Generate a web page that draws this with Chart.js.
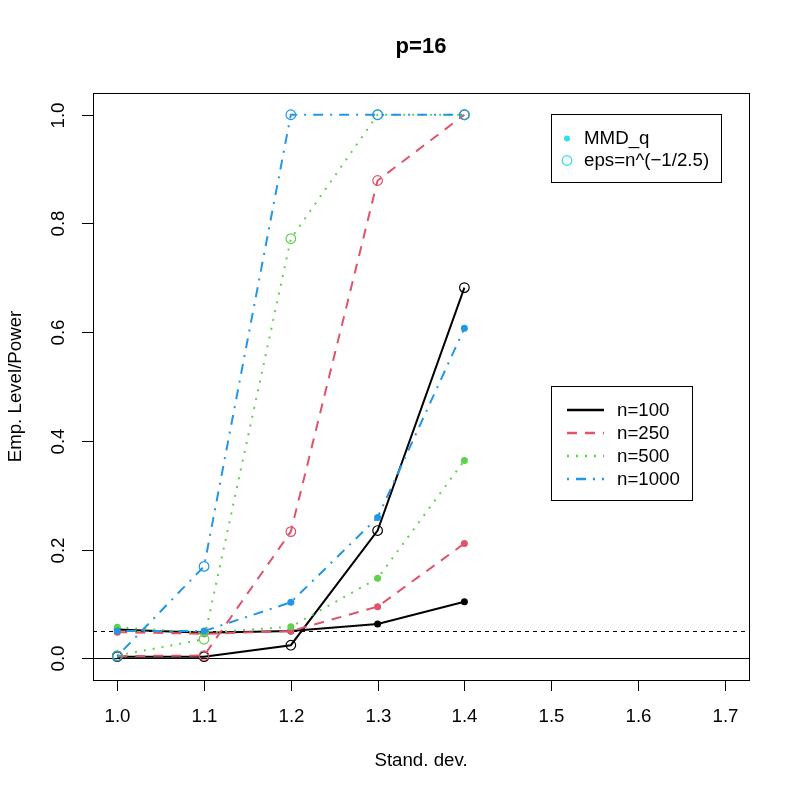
<!DOCTYPE html>
<html>
<head>
<meta charset="utf-8">
<script src="https://cdn.jsdelivr.net/npm/chart.js@4/dist/chart.umd.min.js"></script>
<style>
  html, body { margin: 0; padding: 0; background: #fff; }
</style>
</head>
<body>
<canvas id="grafico" width="797" height="797"></canvas>
<script>
// desvios (eixo x) e rótulos
const desvios = [1.0, 1.1, 1.2, 1.3, 1.4];
const xTicks = [1.0, 1.1, 1.2, 1.3, 1.4, 1.5, 1.6, 1.7];
const yTicks = [0.0, 0.2, 0.4, 0.6, 0.8, 1.0];
const tamanhos = ["n=100", "n=250", "n=500", "n=1000"];
const cores = ["#000000", "#DF536B", "#61D04F", "#2297E6"];

// MMD_q (pontos cheios)
const mmd100  = [0.053, 0.047, 0.050, 0.063, 0.104];
const mmd250  = [0.048, 0.045, 0.050, 0.095, 0.211];
const mmd500  = [0.057, 0.047, 0.058, 0.147, 0.364];
const mmd1000 = [0.050, 0.050, 0.103, 0.259, 0.607];

// eps=n^(-1/2.5) (círculos abertos)
const eps100  = [0.003, 0.003, 0.024, 0.235, 0.682];
const eps250  = [0.004, 0.005, 0.233, 0.879, 1.000];
const eps500  = [0.005, 0.035, 0.772, 1.000, 1.000];
const eps1000 = [0.004, 0.169, 1.000, 1.000, 1.000];

const nivel = 0.05;

const tracos = [[], [10, 8], [2, 7], [2, 7, 10, 7]];
const fonte = "'Liberation Sans', Arial, sans-serif";

function pontos(vals) {
  return vals.map((v, i) => ({ x: desvios[i], y: v }));
}

const mmd = [mmd100, mmd250, mmd500, mmd1000];
const eps = [eps100, eps250, eps500, eps1000];

let datasets = [];
for (let k = 0; k < 4; k++) {
  datasets.push({
    label: "MMD_q " + tamanhos[k],
    data: pontos(mmd[k]),
    borderColor: cores[k],
    backgroundColor: cores[k],
    borderWidth: 2,
    borderDash: tracos[k],
    pointRadius: 3.5,
    pointBorderWidth: 0,
    pointBackgroundColor: cores[k],
    tension: 0
  });
  datasets.push({
    label: "eps " + tamanhos[k],
    data: pontos(eps[k]),
    borderColor: cores[k],
    backgroundColor: cores[k],
    borderWidth: 2,
    borderDash: tracos[k],
    pointRadius: 4.8,
    pointBorderWidth: 1.2,
    pointBackgroundColor: "rgba(255,255,255,0)",
    tension: 0
  });
}
// o primeiro dataset fica por cima no Chart.js
datasets.reverse();

const eixos = {
  id: "eixos",
  beforeDatasetsDraw(chart) {
    const { ctx, chartArea: a, scales: { x, y } } = chart;
    ctx.save();
    ctx.strokeStyle = "#000";
    ctx.lineWidth = 1;
    let y0 = Math.round(y.getPixelForValue(0)) + 0.5;
    ctx.beginPath(); ctx.moveTo(a.left, y0); ctx.lineTo(a.right, y0); ctx.stroke();
    let y5 = Math.round(y.getPixelForValue(nivel)) + 0.5;
    ctx.setLineDash([4, 4]);
    ctx.beginPath(); ctx.moveTo(a.left, y5); ctx.lineTo(a.right, y5); ctx.stroke();
    ctx.restore();
  },
  afterDraw(chart) {
    const { ctx, chartArea: a, scales: { x, y } } = chart;
    ctx.save();
    ctx.strokeStyle = "#000";
    ctx.fillStyle = "#000";
    ctx.lineWidth = 1;
    ctx.strokeRect(a.left + 0.5, a.top + 0.5, a.right - a.left, a.bottom - a.top);

    // eixo x
    ctx.font = "18.7px " + fonte;
    ctx.textAlign = "center";
    ctx.textBaseline = "middle";
    xTicks.forEach(t => {
      const px = Math.round(x.getPixelForValue(t)) + 0.5;
      ctx.beginPath(); ctx.moveTo(px, a.bottom); ctx.lineTo(px, a.bottom + 11); ctx.stroke();
      ctx.fillText(t.toFixed(1), px, 717);
    });
    // eixo y
    yTicks.forEach(t => {
      const py = Math.round(y.getPixelForValue(t)) + 0.5;
      ctx.beginPath(); ctx.moveTo(a.left - 11, py); ctx.lineTo(a.left, py); ctx.stroke();
      ctx.save();
      ctx.translate(59, py);
      ctx.rotate(-Math.PI / 2);
      ctx.fillText(t.toFixed(1), 0, 0);
      ctx.restore();
    });

    // títulos
    const cx = (a.left + a.right) / 2;
    const cy = (a.top + a.bottom) / 2;
    ctx.fillText("Stand. dev.", cx, 761);
    ctx.save();
    ctx.translate(16, cy);
    ctx.rotate(-Math.PI / 2);
    ctx.fillText("Emp. Level/Power", 0, 0);
    ctx.restore();
    ctx.font = "bold 22px " + fonte;
    ctx.fillText("p=16", cx, 47);

    // legenda dos métodos
    ctx.font = "18.7px " + fonte;
    ctx.textAlign = "left";
    ctx.fillStyle = "#fff";
    ctx.fillRect(551.5, 114.5, 170, 68);
    ctx.strokeRect(551.5, 114.5, 170, 68);
    ctx.fillStyle = "#28E2E5";
    ctx.beginPath(); ctx.arc(567, 138.5, 3, 0, 2 * Math.PI); ctx.fill();
    ctx.strokeStyle = "#28E2E5";
    ctx.lineWidth = 1.2;
    ctx.beginPath(); ctx.arc(567, 160.5, 4.8, 0, 2 * Math.PI); ctx.stroke();
    ctx.fillStyle = "#000";
    ctx.fillText("MMD_q", 584, 139);
    ctx.fillText("eps=n^(\u22121/2.5)", 584, 161);

    // legenda dos tamanhos
    ctx.strokeStyle = "#000";
    ctx.lineWidth = 1;
    ctx.fillStyle = "#fff";
    ctx.fillRect(551.5, 386.5, 141, 114);
    ctx.strokeRect(551.5, 386.5, 141, 114);
    tamanhos.forEach((nome, k) => {
      const ly = 410 + k * 23;
      ctx.strokeStyle = cores[k];
      ctx.lineWidth = 2.5;
      ctx.setLineDash(tracos[k]);
      ctx.beginPath(); ctx.moveTo(567, ly); ctx.lineTo(604, ly); ctx.stroke();
      ctx.setLineDash([]);
      ctx.fillStyle = "#000";
      ctx.fillText(nome, 617, ly + 0.5);
    });
    ctx.restore();
  }
};

new Chart(document.getElementById("grafico"), {
  type: "line",
  data: { datasets: datasets },
  options: {
    responsive: false,
    animation: false,
    devicePixelRatio: 1,
    layout: { padding: { left: 93, right: 48, top: 93, bottom: 117 } },
    plugins: {
      legend: { display: false },
      title: { display: false },
      tooltip: { enabled: false }
    },
    scales: {
      x: { type: "linear", min: 0.972, max: 1.728, display: false },
      y: { type: "linear", min: -0.04, max: 1.04, display: false }
    }
  },
  plugins: [eixos]
});
</script>
</body>
</html>
